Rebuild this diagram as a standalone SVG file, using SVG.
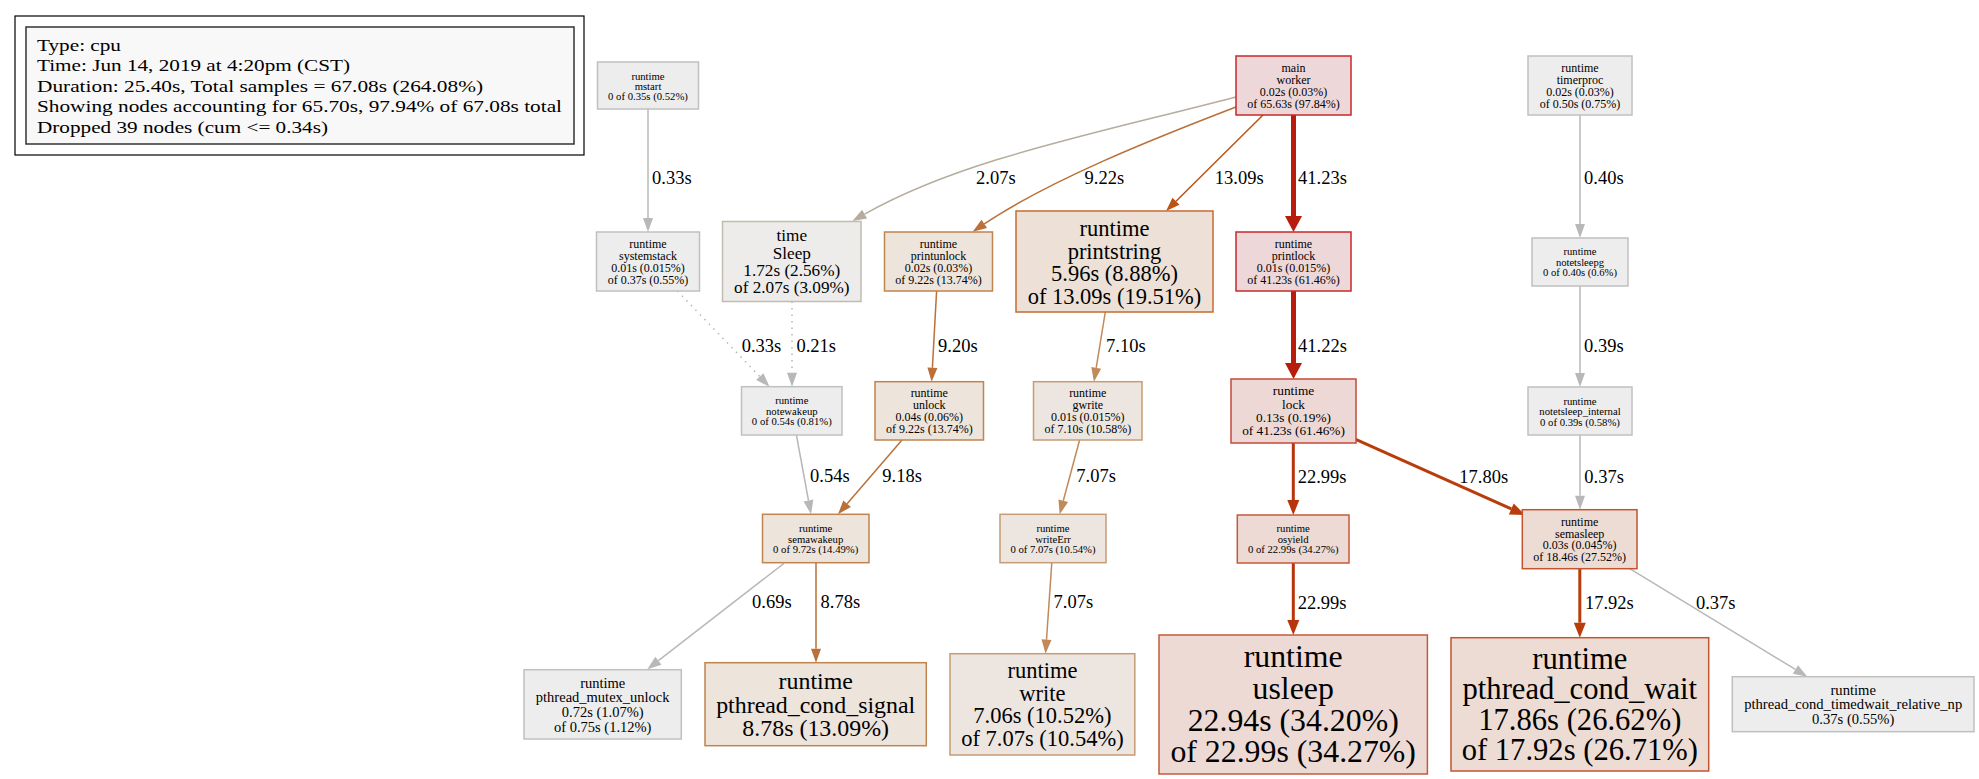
<svg xmlns="http://www.w3.org/2000/svg" width="1979" height="779" viewBox="0 0 1979 779">
<style>
text{font-family:"Liberation Serif","Times New Roman",serif;fill:#000}
.n text{text-anchor:middle}
.lbl{font-size:18.5px}
.e{fill:none;stroke-width:1.5}
.gray{fill:#ededed;stroke:#c0c0c0;stroke-width:1.5}
.tan{fill:#edecea;stroke:#c2bcb0;stroke-width:1.5}
.red{fill:#eed7d8;stroke:#c62a2a;stroke-width:1.5}
.red2{fill:#eed8d6;stroke:#c54a3a;stroke-width:1.5}
.org1{fill:#eddad4;stroke:#c5593b;stroke-width:1.5}
.org2{fill:#eddcd4;stroke:#c25530;stroke-width:1.5}
.org3{fill:#ede0d7;stroke:#c86b33;stroke-width:1.5}
.brn{fill:#ede4dc;stroke:#c0844e;stroke-width:1.5}
.ltb{fill:#ede6e0;stroke:#c59c76;stroke-width:1.5}
</style>
<defs>
<marker id="aGray" markerUnits="userSpaceOnUse" markerWidth="15" markerHeight="12" refX="0" refY="5" orient="auto" overflow="visible"><path d="M0,0L14,5L0,10z" fill="#b8b8b8"/></marker>
<marker id="aTan" markerUnits="userSpaceOnUse" markerWidth="15" markerHeight="12" refX="0" refY="5" orient="auto" overflow="visible"><path d="M0,0L14,5L0,10z" fill="#b5ad9d"/></marker>
<marker id="aBrn" markerUnits="userSpaceOnUse" markerWidth="15" markerHeight="12" refX="0" refY="5" orient="auto" overflow="visible"><path d="M0,0L14,5L0,10z" fill="#ba7038"/></marker>
<marker id="aLtb" markerUnits="userSpaceOnUse" markerWidth="15" markerHeight="12" refX="0" refY="5" orient="auto" overflow="visible"><path d="M0,0L14,5L0,10z" fill="#c08a5a"/></marker>
<marker id="aOrg" markerUnits="userSpaceOnUse" markerWidth="15" markerHeight="12" refX="0" refY="5" orient="auto" overflow="visible"><path d="M0,0L14,5L0,10z" fill="#bb5316"/></marker>
<marker id="aOr1" markerUnits="userSpaceOnUse" markerWidth="16" markerHeight="13" refX="0" refY="6" orient="auto" overflow="visible"><path d="M0,0L15,6L0,12z" fill="#b8340a"/></marker>
<marker id="aOr2" markerUnits="userSpaceOnUse" markerWidth="16" markerHeight="13" refX="0" refY="6" orient="auto" overflow="visible"><path d="M0,0L15,6L0,12z" fill="#b93d0a"/></marker>
<marker id="aRed" markerUnits="userSpaceOnUse" markerWidth="17" markerHeight="18" refX="0" refY="8.5" orient="auto" overflow="visible"><path d="M0,0L16,8.5L0,17z" fill="#b81c0c"/></marker>
</defs>

<g id="legend">
<rect x="15" y="16" width="569" height="139" fill="#fff" stroke="#000" stroke-width="1.2"/>
<rect x="26" y="27" width="548" height="117" fill="#f8f8f8" stroke="#333" stroke-width="1.5"/>
<g font-size="17.6">
<text x="37" y="50.5" textLength="84" lengthAdjust="spacingAndGlyphs">Type: cpu</text>
<text x="37" y="71" textLength="313" lengthAdjust="spacingAndGlyphs">Time: Jun 14, 2019 at 4:20pm (CST)</text>
<text x="37" y="91.5" textLength="446" lengthAdjust="spacingAndGlyphs">Duration: 25.40s, Total samples = 67.08s (264.08%)</text>
<text x="37" y="112" textLength="525" lengthAdjust="spacingAndGlyphs">Showing nodes accounting for 65.70s, 97.94% of 67.08s total</text>
<text x="37" y="132.5" textLength="291" lengthAdjust="spacingAndGlyphs">Dropped 39 nodes (cum &lt;= 0.34s)</text>
</g>
</g>

<g id="edges">
<path class="e" stroke="#b8b8b8" d="M648,109V218" marker-end="url(#aGray)"/>
<path class="e" stroke="#b5ad9d" d="M1236,97C1090,135 960,160 864.6,214.2" marker-end="url(#aTan)"/>
<path class="e" stroke="#ba7038" d="M1236,107C1150,140 1050,180 984.3,223.9" marker-end="url(#aBrn)"/>
<path class="e" stroke="#bb5316" d="M1263,115L1176,201.2" marker-end="url(#aOrg)"/>
<path fill="none" stroke="#b81c0c" stroke-width="5" d="M1293.5,115V216" marker-end="url(#aRed)"/>
<path fill="none" stroke="#b81c0c" stroke-width="5" d="M1293.5,291V363" marker-end="url(#aRed)"/>
<path class="e" stroke="#b8b8b8" d="M1580,115V224" marker-end="url(#aGray)"/>
<path class="e" stroke="#b8b8b8" d="M1580,286V373" marker-end="url(#aGray)"/>
<path class="e" stroke="#b8b8b8" d="M1580,435V495.7" marker-end="url(#aGray)"/>
<path class="e" stroke="#b8b8b8" stroke-dasharray="1.5,5" d="M677.4,291L759.8,376.6" marker-end="url(#aGray)"/>
<path class="e" stroke="#b8b8b8" stroke-dasharray="1.5,5" d="M792,301.5V372.7" marker-end="url(#aGray)"/>
<path class="e" stroke="#ba7038" d="M936.6,291L932.4,367.7" marker-end="url(#aBrn)"/>
<path class="e" stroke="#c08a5a" d="M1105.3,312L1096.2,367.9" marker-end="url(#aLtb)"/>
<path class="e" stroke="#b8b8b8" d="M796.4,435L808.5,500.5" marker-end="url(#aGray)"/>
<path class="e" stroke="#ba7038" d="M902,440L847.1,503.7" marker-end="url(#aBrn)"/>
<path class="e" stroke="#c08a5a" d="M1079.6,440L1063.3,500.8" marker-end="url(#aLtb)"/>
<path fill="none" stroke="#b8340a" stroke-width="3" d="M1293.3,443V500" marker-end="url(#aOr1)"/>
<path fill="none" stroke="#b93d0a" stroke-width="3" d="M1355.7,439.3L1511.3,508.9" marker-end="url(#aOr2)"/>
<path fill="none" stroke="#b8340a" stroke-width="3" d="M1293.3,563V620" marker-end="url(#aOr1)"/>
<path fill="none" stroke="#b93d0a" stroke-width="3" d="M1579.8,568.7V622.7" marker-end="url(#aOr2)"/>
<path class="e" stroke="#b8b8b8" d="M1629.7,568.7L1795.4,669.4" marker-end="url(#aGray)"/>
<path class="e" stroke="#b8b8b8" d="M784,563.3L658.4,660.7" marker-end="url(#aGray)"/>
<path class="e" stroke="#ba7038" d="M816,562.7V648.7" marker-end="url(#aBrn)"/>
<path class="e" stroke="#c08a5a" d="M1051.8,562.7L1046.5,639.7" marker-end="url(#aLtb)"/>
<g class="lbl">
<text x="652" y="184">0.33s</text>
<text x="976" y="184">2.07s</text>
<text x="1084.5" y="184">9.22s</text>
<text x="1214.8" y="184">13.09s</text>
<text x="1298" y="184">41.23s</text>
<text x="1584" y="184">0.40s</text>
<text x="741.7" y="352">0.33s</text>
<text x="796.4" y="352">0.21s</text>
<text x="938" y="352">9.20s</text>
<text x="1106" y="352">7.10s</text>
<text x="1298" y="352">41.22s</text>
<text x="1584" y="352">0.39s</text>
<text x="810" y="482">0.54s</text>
<text x="882.3" y="482">9.18s</text>
<text x="1076.3" y="482">7.07s</text>
<text x="1297.7" y="483">22.99s</text>
<text x="1459.3" y="483">17.80s</text>
<text x="1584.3" y="483">0.37s</text>
<text x="752" y="608">0.69s</text>
<text x="820.5" y="608">8.78s</text>
<text x="1053.6" y="608">7.07s</text>
<text x="1297.7" y="608.5">22.99s</text>
<text x="1584.9" y="608.5">17.92s</text>
<text x="1695.9" y="608.5">0.37s</text>
</g>
</g>

<g id="n-mstart" class="n" font-size="10.7">
<rect class="gray" x="597.5" y="62" width="101" height="47"/>
<text x="648" y="79.5">runtime</text><text x="648" y="89.5">mstart</text><text x="648" y="100.2">0 of 0.35s (0.52%)</text>
</g>
<g id="n-timerproc" class="n" font-size="12">
<rect class="gray" x="1528" y="56" width="104" height="59"/>
<text x="1580" y="72">runtime</text><text x="1580" y="84">timerproc</text><text x="1580" y="96">0.02s (0.03%)</text><text x="1580" y="108">of 0.50s (0.75%)</text>
</g>
<g id="n-main-worker" class="n" font-size="12">
<rect class="red" x="1236" y="56" width="115" height="59"/>
<text x="1293.5" y="72">main</text><text x="1293.5" y="84">worker</text><text x="1293.5" y="96">0.02s (0.03%)</text><text x="1293.5" y="108">of 65.63s (97.84%)</text>
</g>
<g id="n-systemstack" class="n" font-size="12">
<rect class="gray" x="596.5" y="232" width="103" height="59"/>
<text x="648" y="248">runtime</text><text x="648" y="260">systemstack</text><text x="648" y="272">0.01s (0.015%)</text><text x="648" y="284">of 0.37s (0.55%)</text>
</g>
<g id="n-sleep" class="n" font-size="17.2">
<rect class="tan" x="722.5" y="221.5" width="138.5" height="80"/>
<text x="791.8" y="241.4">time</text><text x="791.8" y="258.8">Sleep</text><text x="791.8" y="276.2">1.72s (2.56%)</text><text x="791.8" y="293.4">of 2.07s (3.09%)</text>
</g>
<g id="n-printunlock" class="n" font-size="12">
<rect class="brn" x="884.5" y="232" width="108" height="59"/>
<text x="938.5" y="248">runtime</text><text x="938.5" y="260">printunlock</text><text x="938.5" y="272">0.02s (0.03%)</text><text x="938.5" y="284">of 9.22s (13.74%)</text>
</g>
<g id="n-printstring" class="n" font-size="22.5">
<rect class="org3" x="1016" y="211" width="197" height="101"/>
<text x="1114.5" y="236">runtime</text><text x="1114.5" y="258.5">printstring</text><text x="1114.5" y="281">5.96s (8.88%)</text><text x="1114.5" y="303.5">of 13.09s (19.51%)</text>
</g>
<g id="n-printlock" class="n" font-size="12">
<rect class="red" x="1236" y="232" width="115" height="59"/>
<text x="1293.5" y="248">runtime</text><text x="1293.5" y="260">printlock</text><text x="1293.5" y="272">0.01s (0.015%)</text><text x="1293.5" y="284">of 41.23s (61.46%)</text>
</g>
<g id="n-notetsleepg" class="n" font-size="10.6">
<rect class="gray" x="1532" y="238" width="96" height="48"/>
<text x="1580" y="255">runtime</text><text x="1580" y="265.5">notetsleepg</text><text x="1580" y="276">0 of 0.40s (0.6%)</text>
</g>
<g id="n-notewakeup" class="n" font-size="10.7">
<rect class="gray" x="741.5" y="386.7" width="100.5" height="48.3"/>
<text x="791.8" y="404.2">runtime</text><text x="791.8" y="414.8">notewakeup</text><text x="791.8" y="424.8">0 of 0.54s (0.81%)</text>
</g>
<g id="n-unlock" class="n" font-size="12">
<rect class="brn" x="875" y="381.7" width="108.5" height="58.3"/>
<text x="929.3" y="397.3">runtime</text><text x="929.3" y="409.3">unlock</text><text x="929.3" y="421.3">0.04s (0.06%)</text><text x="929.3" y="433.3">of 9.22s (13.74%)</text>
</g>
<g id="n-gwrite" class="n" font-size="12">
<rect class="ltb" x="1033.5" y="381.7" width="108.5" height="58.3"/>
<text x="1087.8" y="397.3">runtime</text><text x="1087.8" y="409.3">gwrite</text><text x="1087.8" y="421.3">0.01s (0.015%)</text><text x="1087.8" y="433.3">of 7.10s (10.58%)</text>
</g>
<g id="n-lock" class="n" font-size="13.3">
<rect class="red2" x="1231" y="379" width="125" height="64"/>
<text x="1293.5" y="395">runtime</text><text x="1293.5" y="408.5">lock</text><text x="1293.5" y="421.8">0.13s (0.19%)</text><text x="1293.5" y="435.1">of 41.23s (61.46%)</text>
</g>
<g id="n-notetsleep-internal" class="n" font-size="10.7">
<rect class="gray" x="1528" y="387" width="104" height="48"/>
<text x="1580" y="404.5">runtime</text><text x="1580" y="415">notetsleep_internal</text><text x="1580" y="425.5">0 of 0.39s (0.58%)</text>
</g>
<g id="n-semawakeup" class="n" font-size="10.7">
<rect class="brn" x="762.5" y="514.3" width="106.5" height="48.4"/>
<text x="815.7" y="532">runtime</text><text x="815.7" y="542.5">semawakeup</text><text x="815.7" y="553">0 of 9.72s (14.49%)</text>
</g>
<g id="n-writeerr" class="n" font-size="10.7">
<rect class="ltb" x="1000" y="514.3" width="106" height="48.4"/>
<text x="1053" y="532">runtime</text><text x="1053" y="542.5">writeErr</text><text x="1053" y="553">0 of 7.07s (10.54%)</text>
</g>
<g id="n-osyield" class="n" font-size="10.7">
<rect class="org1" x="1237.3" y="515" width="111.7" height="48"/>
<text x="1293.2" y="532">runtime</text><text x="1293.2" y="542.5">osyield</text><text x="1293.2" y="553">0 of 22.99s (34.27%)</text>
</g>
<g id="n-semasleep" class="n" font-size="12">
<rect class="org2" x="1522.3" y="509.7" width="114.7" height="59"/>
<text x="1579.7" y="525.5">runtime</text><text x="1579.7" y="537.5">semasleep</text><text x="1579.7" y="549.3">0.03s (0.045%)</text><text x="1579.7" y="561.2">of 18.46s (27.52%)</text>
</g>
<g id="n-pthread-mutex-unlock" class="n" font-size="14.5">
<rect class="gray" x="524" y="669.7" width="157.3" height="69.3"/>
<text x="602.7" y="687.5">runtime</text><text x="602.7" y="702.2">pthread_mutex_unlock</text><text x="602.7" y="716.8">0.72s (1.07%)</text><text x="602.7" y="731.5">of 0.75s (1.12%)</text>
</g>
<g id="n-pthread-cond-signal" class="n" font-size="23.9">
<rect class="brn" x="705" y="662.7" width="221.3" height="83"/>
<text x="815.7" y="689">runtime</text><text x="815.7" y="712.5">pthread_cond_signal</text><text x="815.7" y="736.2">8.78s (13.09%)</text>
</g>
<g id="n-write" class="n" font-size="22.5">
<rect class="ltb" x="950" y="653.7" width="184.8" height="101.3"/>
<text x="1042.4" y="678">runtime</text><text x="1042.4" y="700.5">write</text><text x="1042.4" y="723">7.06s (10.52%)</text><text x="1042.4" y="745.5">of 7.07s (10.54%)</text>
</g>
<g id="n-usleep" class="n" font-size="31.8">
<rect class="org1" x="1159" y="635" width="268.4" height="139"/>
<text x="1293.2" y="667.2">runtime</text><text x="1293.2" y="698.8">usleep</text><text x="1293.2" y="730.5">22.94s (34.20%)</text><text x="1293.2" y="762.2">of 22.99s (34.27%)</text>
</g>
<g id="n-pthread-cond-wait" class="n" font-size="30.6">
<rect class="org2" x="1451" y="637.7" width="257.7" height="133.3"/>
<text x="1579.8" y="668.6">runtime</text><text x="1579.8" y="699.2">pthread_cond_wait</text><text x="1579.8" y="729.8">17.86s (26.62%)</text><text x="1579.8" y="760.4">of 17.92s (26.71%)</text>
</g>
<g id="n-pthread-cond-timedwait-relative-np" class="n" font-size="14.6">
<rect class="gray" x="1732.3" y="676.7" width="241.7" height="55"/>
<text x="1853.2" y="694.8">runtime</text><text x="1853.2" y="709.3">pthread_cond_timedwait_relative_np</text><text x="1853.2" y="723.8">0.37s (0.55%)</text>
</g>
</svg>
